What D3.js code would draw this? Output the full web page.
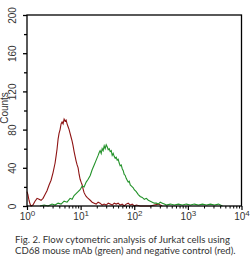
<!DOCTYPE html>
<html>
<head>
<meta charset="utf-8">
<script src="https://cdn.jsdelivr.net/npm/d3@7"></script>
<style>
  body { margin: 0; background: #fff; }
  svg { display: block; }
</style>
</head>
<body>
<svg></svg>
<script>
// negative control (red): fluorescence, count
const redFl = [1, 1.04, 1.09, 1.14, 1.19, 1.29, 1.41, 1.54, 1.68, 1.83, 1.99, 2.17, 2.36, 2.58, 2.81, 3.06,
  3.34, 3.48, 3.64, 3.80, 3.96, 4.14, 4.32, 4.51, 4.71, 4.92, 5.13, 5.36, 5.59, 5.84, 6.10, 6.36, 6.64,
  6.94, 7.24, 7.56, 7.89, 8.24, 8.60, 8.98, 9.38, 9.79, 10.2, 10.7, 11.1, 11.6, 12.1, 12.7, 13.2, 13.8,
  15.1, 16.4, 17.9, 19.5, 21.2, 23.1, 25.2, 27.5, 30.0, 32.7, 35.6, 38.8, 42.3, 46.1, 50.2, 54.7, 59.7,
  65.0, 70.8, 77.2, 84.2, 91.8, 100, 109, 129, 199, 281, 306, 334];
const redCount = [15, 12, 6, 2, 0, 1, 5, 8, 7, 6, 8, 12, 16, 22, 27, 35,
  45, 52, 60, 70, 76, 80, 86, 88, 86, 91, 89, 90, 86, 83, 80, 76, 72,
  68, 63, 57, 52, 47, 43, 40, 33, 28, 25, 22, 18, 14, 12, 10, 9, 8,
  6, 4, 3, 2, 4, 3, 1, 2, 1, 3, 2, 1, 3, 2, 3, 1, 2,
  0, 2, 3, 1, 2, 0, 1, 0, 0, 2, 1, 0];

// CD68 mAb (green)
const greenFl = [1.75, 2.08, 2.47, 2.93, 3.34, 3.80, 4.32, 4.92, 5.59, 6.36, 6.94, 7.56, 8.24, 8.98, 9.79,
  10.7, 11.6, 12.7, 13.8, 15.1, 16.4, 17.9, 19.5, 21.2, 22.2, 23.1, 24.2, 25.2, 26.3, 27.5, 28.7, 30.0,
  31.3, 32.7, 34.1, 35.6, 37.2, 38.8, 40.5, 42.3, 44.1, 46.1, 48.1, 50.2, 52.4, 54.7, 57.2, 59.7, 62.3,
  65.0, 67.9, 70.8, 73.9, 77.2, 80.6, 84.2, 87.9, 91.8, 95.8, 100, 109, 119, 129, 141, 154, 168, 183,
  199, 217, 237, 258, 281, 306, 334, 364, 396, 471, 559, 664, 789, 937, 1114, 1322, 1571, 1866, 2217,
  2634, 3129, 3718, 4416];
const greenCount = [0, 1, 0, 2, 1, 3, 2, 5, 4, 8, 7, 11, 13, 15, 17,
  21, 20, 25, 28, 32, 38, 43, 48, 53, 56, 58, 55, 60, 58, 63, 60, 64,
  62, 59, 60, 57, 58, 53, 55, 52, 50, 51, 48, 49, 45, 42, 43, 39, 37,
  33, 32, 29, 27, 25, 26, 22, 21, 20, 19, 17, 15, 12, 10, 9, 7, 8, 6,
  5, 4, 3, 3, 2, 4, 3, 2, 1, 2, 1, 2, 1, 2, 1, 2, 1, 2, 1,
  2, 1, 2, 0];

const yTicks = [0, 40, 80, 120, 160, 200];
const yMinor = [20, 60, 100, 140, 180];
const xDecades = [1, 10, 100, 1000, 10000];
const caption = [
  "Fig. 2. Flow cytometric analysis of Jurkat cells using",
  "CD68 mouse mAb (green) and negative control (red)."
];

const W = 250, H = 265;
const margin = { top: 15, right: 8.5, bottom: 59, left: 27 };
const innerW = W - margin.left - margin.right;
const innerH = H - margin.top - margin.bottom;

const svg = d3.select("svg").attr("width", W).attr("height", H);
const g = svg.append("g").attr("transform", `translate(${margin.left},${margin.top})`);

const x = d3.scaleLog().domain([1, 10000]).range([0, innerW]);
const y = d3.scaleLinear().domain([0, 200]).range([innerH, 0]);

const line = d3.line().x(d => x(d[0])).y(d => y(d[1]));

g.append("path")
  .attr("d", line(d3.zip(redFl, redCount)))
  .attr("fill", "none")
  .attr("stroke", "#8e1414")
  .attr("stroke-width", 1.1);

g.append("path")
  .attr("d", line(d3.zip(greenFl, greenCount)))
  .attr("fill", "none")
  .attr("stroke", "#23922a")
  .attr("stroke-width", 1.1);

// frame
g.append("rect")
  .attr("width", innerW).attr("height", innerH)
  .attr("fill", "none").attr("stroke", "#000").attr("stroke-width", 1.3);

// y axis
const yAxis = g.append("g").call(d3.axisLeft(y).tickValues(yTicks).tickSize(4).tickFormat(d3.format("d")));
yAxis.select(".domain").remove();
yAxis.selectAll(".tick line").attr("stroke-width", 1.3);
yAxis.selectAll(".tick text")
  .attr("transform", "rotate(-90)")
  .attr("x", 0).attr("y", -11)
  .attr("dy", 0)
  .attr("text-anchor", "middle")
  .attr("font-family", "Liberation Sans, Arial, sans-serif")
  .attr("font-size", 10)
  .attr("fill", "#333");
const yMin = g.append("g").call(d3.axisLeft(y).tickValues(yMinor).tickSize(3).tickFormat(""));
yMin.select(".domain").remove();
yMin.selectAll(".tick line").attr("stroke-width", 1.3);

g.append("text")
  .attr("transform", `translate(${8 - margin.left},${93}) rotate(-90)`)
  .attr("text-anchor", "middle")
  .attr("font-family", "Liberation Sans, Arial, sans-serif")
  .attr("font-size", 10)
  .attr("fill", "#333")
  .text("Counts");

// x axis
const xMinor = x.ticks().filter(v => !xDecades.includes(v));
const xMin = g.append("g").attr("transform", `translate(0,${innerH})`)
  .call(d3.axisBottom(x).tickValues(xMinor).tickSize(2.5).tickFormat(""));
xMin.select(".domain").remove();
xMin.selectAll(".tick line").attr("stroke-width", 1);

const xAxis = g.append("g").attr("transform", `translate(0,${innerH})`)
  .call(d3.axisBottom(x).tickValues(xDecades).tickSize(4).tickFormat(""));
xAxis.select(".domain").remove();
xAxis.selectAll(".tick line").attr("stroke-width", 1.2);
const lab = xAxis.selectAll(".tick").append("text")
  .attr("y", 14)
  .attr("fill", "#333")
  .attr("font-family", "Liberation Sans, Arial, sans-serif")
  .attr("font-size", 10)
  .attr("text-anchor", "middle");
lab.append("tspan").text("10");
lab.append("tspan").attr("font-size", 8).attr("dy", -4).text(d => Math.round(Math.log10(d)));

// caption
svg.append("g").selectAll("text").data(caption).join("text")
  .attr("x", 15)
  .attr("y", (d, i) => 243 + i * 10.5)
  .attr("font-family", "Lato, Open Sans, sans-serif")
  .attr("font-size", 9.6)
  .attr("fill", "#333")
  .text(d => d);
</script>
</body>
</html>
